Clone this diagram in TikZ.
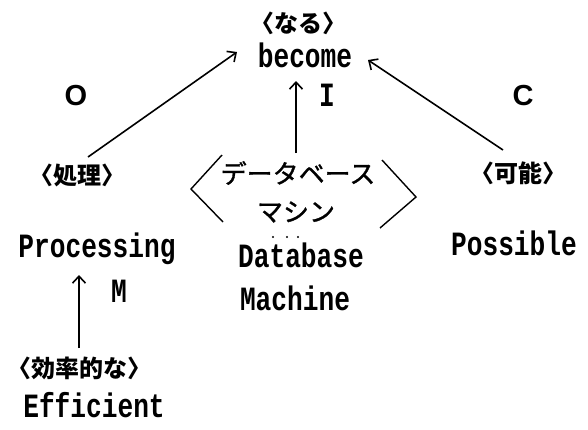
\documentclass[tikz,border=0pt]{standalone}
\usepackage{fontspec}
\usetikzlibrary{arrows.meta}
\newfontfamily\ttb[FakeStretch=0.77]{Liberation Mono}
\newfontfamily\jpf{Noto Sans CJK JP}
\newfontfamily\jpm[FakeBold=1.2]{Noto Sans CJK JP}
\newfontfamily\latf{Liberation Sans}
\tikzset{
  tt/.style={inner sep=0pt,anchor=base,font=\ttb\bfseries\fontsize{34}{34}\selectfont},
  jp/.style={inner sep=0pt,font=\jpf\bfseries\fontsize{24}{24}\selectfont},
  jpl/.style={inner sep=0pt,font=\jpm\fontsize{26}{26}\selectfont},
  lat/.style={inner sep=0pt,font=\latf\bfseries\fontsize{29}{29}\selectfont},
  arr/.style={line width=1.6pt,-{Straight Barb[length=7pt,width=13pt,line width=1.6pt]}},
  brk/.style={line width=1.4pt},
  dot/.style={fill=black,inner sep=0pt,minimum size=2.2pt,circle}
}
\begin{document}
\begin{tikzpicture}[x=1pt,y=-1pt]
\useasboundingbox[fill=white] (0,0) rectangle (588,429);
\node[jp] (naru) at (298,23) {〈なる〉};
\node[tt] (become) at (305,67) {become};
\node[lat] (O) at (76,96) {O};
\node[lat] (C) at (523,96) {C};
\node[tt] (I) at (327,106) {I};
\node[jp] (shori) at (77,175) {〈処理〉};
\node[jp] (kanou) at (518,173) {〈可能〉};
\node[jpl] (db1) at (298,173) {データベース};
\node[jpl] (db2) at (296,212) {マシン};
\node[dot] (d1) at (273,237) {};
\node[dot] (d2) at (287,237) {};
\node[dot] (d3) at (298,237) {};
\node[tt] (proc) at (97,257) {Processing};
\node[tt] (db3) at (301,267) {Database};
\node[tt] (db4) at (295,310) {Machine};
\node[tt] (poss) at (514,255) {Possible};
\node[tt] (M) at (119,302) {M};
\node[jp] (kor) at (79,368) {〈効率的な〉};
\node[tt] (eff) at (94,417) {Efficient};
\draw[arr] ([shift={(11,-18)}]shori.center) -- ([shift={(-68,-15)}]become.base);
\draw[arr] ([shift={(-15,-23)}]kanou.center) -- ([shift={(63,-7)}]become.base);
\draw[arr] ([shift={(-2,-20)}]db1.center) -- ([shift={(-9,14)}]become.base);
\draw[arr] ([shift={(0,-20)}]kor.center) -- ([shift={(-18,18)}]proc.base);
\draw[brk] (222,155) -- (191,189) -- (223,222);
\draw[brk] (382,160) -- (416,197) -- (380,228);
\end{tikzpicture}
\end{document}
